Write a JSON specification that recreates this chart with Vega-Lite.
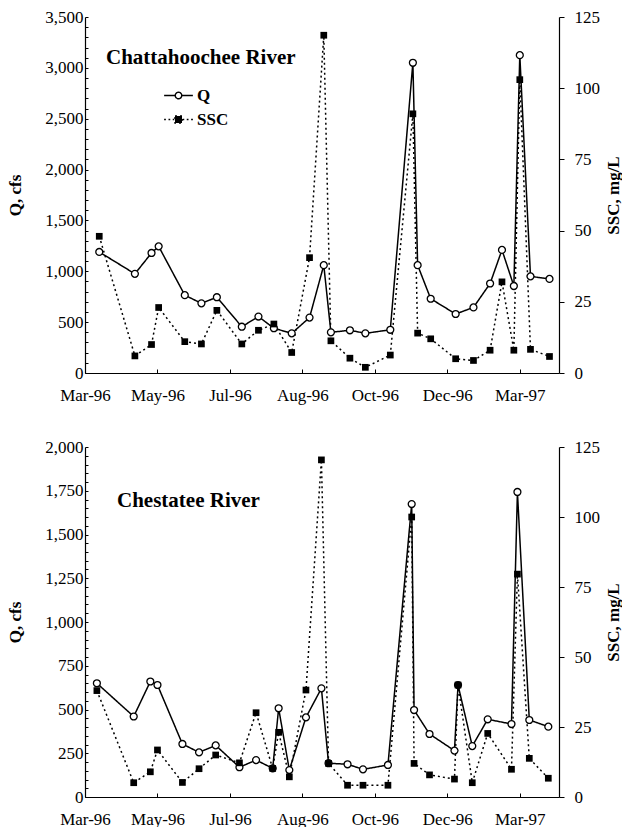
{
  "$schema": "https://vega.github.io/schema/vega-lite/v6.json",
  "background": "white",
  "padding": {"left": 6, "top": 8, "right": 0, "bottom": 0},
  "bounds": "flush",
  "spacing": 74,
  "config": {
    "view": {"stroke": null},
    "font": "Liberation Serif",
    "axis": {
      "labelFont": "Liberation Serif", "titleFont": "Liberation Serif",
      "labelFontSize": 17, "titleFontSize": 17,
      "labelColor": "black", "titleColor": "black",
      "domainColor": "black", "tickColor": "black",
      "grid": false, "labelFontWeight": "normal", "titleFontWeight": "bold",
      "domainWidth": 1.2, "tickWidth": 1
    }
  },
  "datasets": {
    "chat": [
      {"date": "1996-03-13", "Q": 1190, "SSC": 48},
      {"date": "1996-04-12", "Q": 975, "SSC": 6},
      {"date": "1996-04-26", "Q": 1180, "SSC": 10},
      {"date": "1996-05-02", "Q": 1245, "SSC": 23},
      {"date": "1996-05-24", "Q": 765, "SSC": 11},
      {"date": "1996-06-07", "Q": 685, "SSC": 10.2},
      {"date": "1996-06-20", "Q": 745, "SSC": 22},
      {"date": "1996-07-11", "Q": 455, "SSC": 10.2},
      {"date": "1996-07-25", "Q": 555, "SSC": 15},
      {"date": "1996-08-07", "Q": 440, "SSC": 17.2},
      {"date": "1996-08-22", "Q": 390, "SSC": 7.2},
      {"date": "1996-09-06", "Q": 545, "SSC": 40.5},
      {"date": "1996-09-18", "Q": 1060, "SSC": 118.6},
      {"date": "1996-09-24", "Q": 400, "SSC": 11.3},
      {"date": "1996-10-10", "Q": 420, "SSC": 5.2},
      {"date": "1996-10-23", "Q": 390, "SSC": 2},
      {"date": "1996-11-13", "Q": 425, "SSC": 6.3},
      {"date": "1996-12-02", "Q": 3050, "SSC": 91},
      {"date": "1996-12-06", "Q": 1060, "SSC": 14},
      {"date": "1996-12-17", "Q": 730, "SSC": 12},
      {"date": "1997-01-07", "Q": 580, "SSC": 5},
      {"date": "1997-01-22", "Q": 645, "SSC": 4.4},
      {"date": "1997-02-05", "Q": 880, "SSC": 8},
      {"date": "1997-02-15", "Q": 1210, "SSC": 32},
      {"date": "1997-02-25", "Q": 855, "SSC": 8},
      {"date": "1997-03-02", "Q": 3125, "SSC": 103},
      {"date": "1997-03-11", "Q": 950, "SSC": 8.3},
      {"date": "1997-03-27", "Q": 925, "SSC": 5.8}
    ],
    "ches": [
      {"date": "1996-03-11", "Q": 650, "SSC": 38},
      {"date": "1996-04-11", "Q": 460, "SSC": 5.1},
      {"date": "1996-04-25", "Q": 660, "SSC": 9},
      {"date": "1996-05-01", "Q": 640, "SSC": 16.8},
      {"date": "1996-05-22", "Q": 303, "SSC": 5.2},
      {"date": "1996-06-05", "Q": 255, "SSC": 10.1},
      {"date": "1996-06-19", "Q": 295, "SSC": 15},
      {"date": "1996-07-09", "Q": 170, "SSC": 12.2},
      {"date": "1996-07-23", "Q": 211, "SSC": 30.1},
      {"date": "1996-08-06", "Q": 164, "SSC": 10.2},
      {"date": "1996-08-11", "Q": 507, "SSC": 23.1},
      {"date": "1996-08-20", "Q": 154, "SSC": 7.2},
      {"date": "1996-09-03", "Q": 455, "SSC": 38.2},
      {"date": "1996-09-16", "Q": 621, "SSC": 120.4},
      {"date": "1996-09-22", "Q": 193, "SSC": 12},
      {"date": "1996-10-08", "Q": 187, "SSC": 4.2},
      {"date": "1996-10-21", "Q": 158, "SSC": 4.2},
      {"date": "1996-11-11", "Q": 183, "SSC": 4.2},
      {"date": "1996-12-01", "Q": 1674, "SSC": 100},
      {"date": "1996-12-03", "Q": 497, "SSC": 12},
      {"date": "1996-12-16", "Q": 360, "SSC": 7.9},
      {"date": "1997-01-06", "Q": 265, "SSC": 6.4},
      {"date": "1997-01-09", "Q": 640, "SSC": 40},
      {"date": "1997-01-21", "Q": 291, "SSC": 5.1},
      {"date": "1997-02-03", "Q": 444, "SSC": 22.7},
      {"date": "1997-02-23", "Q": 417, "SSC": 9.9},
      {"date": "1997-02-28", "Q": 1743, "SSC": 79.6},
      {"date": "1997-03-10", "Q": 440, "SSC": 13.8},
      {"date": "1997-03-26", "Q": 402, "SSC": 6.7}
    ]
  },
  "vconcat": [
    {
      "width": 474, "height": 356,
      "data": {"name": "chat"},
      "title": {"text": "Chattahoochee River", "anchor": "start", "frame": "group", "dx": 21, "offset": -77, "baseline": "alphabetic", "fontSize": 21, "font": "Liberation Serif", "fontWeight": "bold", "color": "black"},
      "encoding": {
        "x": {"field": "date", "type": "temporal", "title": null,
          "scale": {"type": "utc", "domain": [{"year": 1996, "month": 3, "date": 1, "utc": true}, {"year": 1997, "month": 4, "date": 4, "utc": true}]},
          "axis": {"values": [{"year": 1996, "month": 3, "date": 1, "utc": true}, {"year": 1996, "month": 5, "date": 1, "utc": true}, {"year": 1996, "month": 7, "date": 1, "utc": true}, {"year": 1996, "month": 8, "date": 31, "utc": true}, {"year": 1996, "month": 10, "date": 31, "utc": true}, {"year": 1996, "month": 12, "date": 31, "utc": true}, {"year": 1997, "month": 3, "date": 2, "utc": true}],
            "labelExpr": "utcFormat(datum.value, '%b-%y')", "tickSize": -4, "labelPadding": 18, "labelFlush": false, "labelOverlap": false}
        }
      },
      "layer": [
        {
          "mark": {"type": "line", "color": "black", "strokeWidth": 1.5},
          "encoding": {
            "y": {"field": "Q", "type": "quantitative", "scale": {"domain": [0, 3500], "nice": false},
              "axis": {"orient": "left", "title": "Q, cfs", "values": [0,100,200,300,400,500,600,700,800,900,1000,1100,1200,1300,1400,1500,1600,1700,1800,1900,2000,2100,2200,2300,2400,2500,2600,2700,2800,2900,3000,3100,3200,3300,3400,3500],
                "labelExpr": "datum.value % 500 === 0 ? format(datum.value, ',') : ''", "tickSize": -3, "labelPadding": 5, "titlePadding": 20, "labelOverlap": false}},
            "strokeDash": {"datum": "Q", "type": "nominal",
              "scale": {"domain": ["Q", "SSC"], "range": [[1, 0], [2, 3]]},
              "legend": {"title": null, "orient": "none", "legendX": 80, "legendY": 65, "symbolSize": 625, "rowPadding": 2,
                "labelFont": "Liberation Serif", "labelFontSize": 17, "labelFontWeight": "bold", "labelColor": "black", "labelOffset": 5,
                "symbolStrokeWidth": 1.4, "symbolStrokeColor": "black",
                "encode": {"symbols": {"update": {
                  "shape": {"signal": "datum.value === 'Q' ? 'M-1.15,0L-0.26,0M0.26,0L1.15,0M-0.26,0A0.26,0.26,0,1,1,0.26,0A0.26,0.26,0,1,1,-0.26,0' : 'M-1.15,0L-1.01,0M-0.8,0L-0.66,0M-0.46,0L-0.34,0M0.34,0L0.46,0M0.66,0L0.8,0M1.01,0L1.15,0M-0.28,-0.28L0.28,-0.28L0.28,0.28L-0.28,0.28Z'"},
                  "fill": {"signal": "datum.value === 'Q' ? 'white' : 'black'"},
                  "fillOpacity": {"value": 1}, "opacity": {"value": 1},
                  "strokeDash": {"value": [1, 0]},
                  "stroke": {"value": "black"}}}}}}
          }
        },
        {
          "mark": {"type": "line", "color": "black", "strokeWidth": 1.5},
          "encoding": {
            "y": {"field": "SSC", "type": "quantitative", "scale": {"domain": [0, 125], "nice": false},
              "axis": {"orient": "right", "title": "SSC, mg/L", "values": [0, 25, 50, 75, 100, 125], "tickSize": 5, "labelPadding": 10, "titlePadding": 23, "titleAngle": 270}},
            "strokeDash": {"datum": "SSC", "type": "nominal"}
          }
        },
        {
          "mark": {"type": "point", "shape": "circle", "filled": true, "fill": "white", "stroke": "black", "strokeWidth": 1.3, "size": 48, "opacity": 1},
          "encoding": {"y": {"field": "Q", "type": "quantitative", "scale": {"domain": [0, 3500], "nice": false}, "axis": null}}
        },
        {
          "mark": {"type": "square", "color": "black", "size": 45, "opacity": 1},
          "encoding": {"y": {"field": "SSC", "type": "quantitative", "scale": {"domain": [0, 125], "nice": false}, "axis": null}}
        }
      ],
      "resolve": {"scale": {"y": "independent"}}
    },
    {
      "width": 474, "height": 350,
      "data": {"name": "ches"},
      "title": {"text": "Chestatee River", "anchor": "start", "frame": "group", "dx": 32, "offset": -90, "baseline": "alphabetic", "fontSize": 21, "font": "Liberation Serif", "fontWeight": "bold", "color": "black"},
      "encoding": {
        "x": {"field": "date", "type": "temporal", "title": null,
          "scale": {"type": "utc", "domain": [{"year": 1996, "month": 3, "date": 1, "utc": true}, {"year": 1997, "month": 4, "date": 4, "utc": true}]},
          "axis": {"values": [{"year": 1996, "month": 3, "date": 1, "utc": true}, {"year": 1996, "month": 5, "date": 1, "utc": true}, {"year": 1996, "month": 7, "date": 1, "utc": true}, {"year": 1996, "month": 8, "date": 31, "utc": true}, {"year": 1996, "month": 10, "date": 31, "utc": true}, {"year": 1996, "month": 12, "date": 31, "utc": true}, {"year": 1997, "month": 3, "date": 2, "utc": true}],
            "labelExpr": "utcFormat(datum.value, '%b-%y')", "tickSize": -4, "labelPadding": 18, "labelFlush": false, "labelOverlap": false}
        }
      },
      "layer": [
        {
          "mark": {"type": "line", "color": "black", "strokeWidth": 1.5},
          "encoding": {
            "y": {"field": "Q", "type": "quantitative", "scale": {"domain": [0, 2000], "nice": false},
              "axis": {"orient": "left", "title": "Q, cfs", "values": [0,50,100,150,200,250,300,350,400,450,500,550,600,650,700,750,800,850,900,950,1000,1050,1100,1150,1200,1250,1300,1350,1400,1450,1500,1550,1600,1650,1700,1750,1800,1850,1900,1950,2000],
                "labelExpr": "datum.value % 250 === 0 ? format(datum.value, ',') : ''", "tickSize": -3, "labelPadding": 5, "titlePadding": 20, "labelOverlap": false}},
            "strokeDash": {"datum": "Q", "type": "nominal",
              "scale": {"domain": ["Q", "SSC"], "range": [[1, 0], [2, 3]]},
              "legend": {"title": null, "orient": "none", "legendX": 64, "legendY": 82, "symbolSize": 625, "rowPadding": 0,
                "labelFont": "Liberation Serif", "labelFontSize": 17, "labelFontWeight": "bold", "labelColor": "black", "labelOffset": 5,
                "symbolStrokeWidth": 1.4, "symbolStrokeColor": "black",
                "encode": {"symbols": {"update": {
                  "shape": {"signal": "datum.value === 'Q' ? 'M-1.15,0L-0.26,0M0.26,0L1.15,0M-0.26,0A0.26,0.26,0,1,1,0.26,0A0.26,0.26,0,1,1,-0.26,0' : 'M-1.15,0L-1.01,0M-0.8,0L-0.66,0M-0.46,0L-0.34,0M0.34,0L0.46,0M0.66,0L0.8,0M1.01,0L1.15,0M-0.28,-0.28L0.28,-0.28L0.28,0.28L-0.28,0.28Z'"},
                  "fill": {"signal": "datum.value === 'Q' ? 'white' : 'black'"},
                  "fillOpacity": {"value": 1}, "opacity": {"value": 1},
                  "strokeDash": {"value": [1, 0]},
                  "stroke": {"value": "black"}}}}}}
          }
        },
        {
          "mark": {"type": "line", "color": "black", "strokeWidth": 1.5},
          "encoding": {
            "y": {"field": "SSC", "type": "quantitative", "scale": {"domain": [0, 125], "nice": false},
              "axis": {"orient": "right", "title": "SSC, mg/L", "values": [0, 25, 50, 75, 100, 125], "tickSize": 5, "labelPadding": 10, "titlePadding": 23, "titleAngle": 270}},
            "strokeDash": {"datum": "SSC", "type": "nominal"}
          }
        },
        {
          "mark": {"type": "point", "shape": "circle", "filled": true, "fill": "white", "stroke": "black", "strokeWidth": 1.3, "size": 48, "opacity": 1},
          "encoding": {"y": {"field": "Q", "type": "quantitative", "scale": {"domain": [0, 2000], "nice": false}, "axis": null}}
        },
        {
          "mark": {"type": "square", "color": "black", "size": 45, "opacity": 1},
          "encoding": {"y": {"field": "SSC", "type": "quantitative", "scale": {"domain": [0, 125], "nice": false}, "axis": null}}
        }
      ],
      "resolve": {"scale": {"y": "independent"}}
    }
  ]
}
